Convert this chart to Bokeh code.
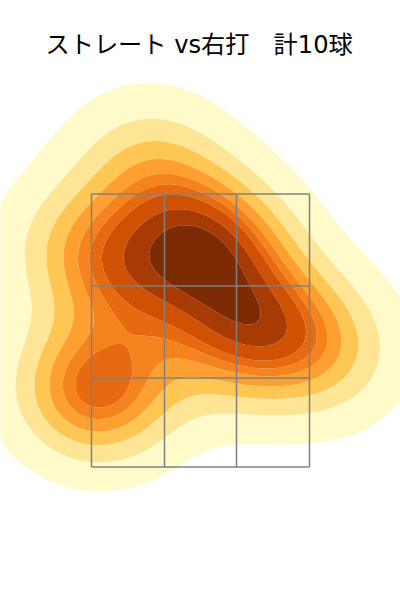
import numpy as np
from bokeh.plotting import figure
from bokeh.models import Range1d
from bokeh.embed import file_html
from bokeh.resources import INLINE

TITLE = "ストレート vs右打　計10球"
PITCH_X = [89, 83, 102, 150, 138, 223, 228, 200, 268, 322]
PITCH_Y = [391, 248, 389, 166, 280, 249, 344, 236, 315, 351]
ZONE_X = [91, 164, 236, 309]
ZONE_Y = [193.5, 285.5, 377.5, 466.5]
COLORS = ["#FFFACA", "#FEE596", "#FEC653", "#FEA02F", "#F4821D", "#E76A11", "#D05004", "#A73B03", "#7C2B05"]

P = np.column_stack([PITCH_X, PITCH_Y]).astype(float)
C = np.cov(P.T) * (len(P) ** (-1 / 3))
Ci = np.linalg.inv(C)
bw = np.sqrt(np.diag(C))
xs = np.linspace(P[:, 0].min() - 3 * bw[0], P[:, 0].max() + 3 * bw[0], 200)
ys = np.linspace(P[:, 1].min() - 3 * bw[1], P[:, 1].max() + 3 * bw[1], 200)
X, Y = np.meshgrid(xs, ys)
dx = X[..., None] - P[:, 0]
dy = Y[..., None] - P[:, 1]
Z = np.exp(-.5 * (Ci[0, 0] * dx * dx + 2 * Ci[0, 1] * dx * dy + Ci[1, 1] * dy * dy)).sum(-1)
v = np.sort(Z.ravel())[::-1]
cum = np.cumsum(v) / v.sum()
levels = np.take(v, np.searchsorted(cum, 1 - np.linspace(.05, 1, 10)), mode="clip")

p = figure(width=400, height=600, frame_width=400, frame_height=530, min_border=0, min_border_top=70,
           output_backend="svg", toolbar_location=None,
           x_range=Range1d(0, 400), y_range=Range1d(600, 70))
p.title.text = TITLE
p.title.text_font = "DejaVu Sans, Noto Sans CJK JP"
p.title.text_font_size = "24.2px"
p.title.text_font_style = "normal"
p.title.text_color = "black"
p.title.align = "left"
p.title.offset = 45
p.title.standoff = 24
p.axis.visible = False
p.grid.visible = False
p.outline_line_color = None
p.contour(xs, ys, Z, levels, fill_color=COLORS, line_color=None)
p.multi_line([[x, x] for x in ZONE_X] + [[ZONE_X[0], ZONE_X[-1]] for y in ZONE_Y],
             [[ZONE_Y[0], ZONE_Y[-1]] for x in ZONE_X] + [[y, y] for y in ZONE_Y],
             line_color="gray", line_width=1.5)
open("out.html", "w").write(file_html(p, INLINE))
